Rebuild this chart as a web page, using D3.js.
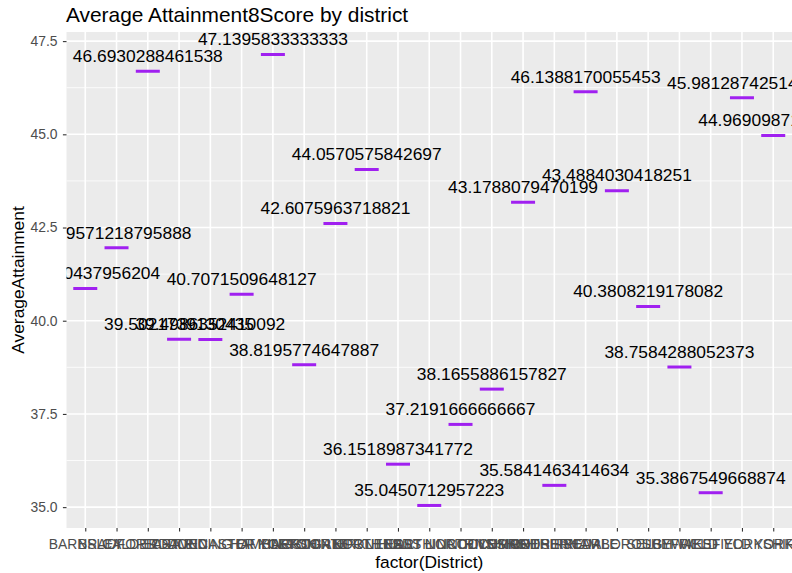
<!DOCTYPE html>
<html>
<head>
<meta charset="utf-8">
<script src="https://cdn.jsdelivr.net/npm/d3@7"></script>
<style>
  body { margin: 0; background: #fff; }
  text { font-family: "Liberation Sans", Arial, sans-serif; }
</style>
</head>
<body>
<script>
// data
var districts = ["BARNSLEY", "BRADFORD", "CALDERDALE", "CRAVEN", "DONCASTER",
                 "EAST RIDING OF YORKSHIRE", "HAMBLETON", "HARROGATE",
                 "KINGSTON UPON HULL", "KIRKLEES", "LEEDS",
                 "NORTH EAST LINCOLNSHIRE", "NORTH LINCOLNSHIRE", "NORTH YORKSHIRE",
                 "RICHMONDSHIRE", "ROTHERHAM", "RYEDALE", "SCARBOROUGH", "SELBY",
                 "SHEFFIELD", "WAKEFIELD", "WEST YORKSHIRE", "YORK"];

var avgAttainment = [40.8620437956204, 41.9571218795888, 46.6930288461538,
                     39.5021739130435, 39.4986352410092, 40.7071509648127,
                     47.1395833333333, 38.8195774647887, 42.6075963718821,
                     44.0570575842697, 36.1518987341772, 35.0450712957223,
                     37.2191666666667, 38.1655886157827, 43.1788079470199,
                     35.5841463414634, 46.1388170055453, 43.4884030418251,
                     40.3808219178082, 38.7584288052373, 35.3867549668874,
                     45.9812874251497, 44.9690987124464];

var yTicks = [35, 37.5, 40, 42.5, 45, 47.5];
var yMinorTicks = [36.25, 38.75, 41.25, 43.75, 46.25];

var width = 792, height = 573;
var panel = { left: 66.5, right: 792, top: 32, bottom: 528 };

var points = districts.map(function (d, i) { return { district: d, value: avgAttainment[i] }; });

var svg = d3.select("body").append("svg")
            .attr("width", width)
            .attr("height", height);

var x = d3.scalePoint()
          .domain(districts)
          .range([panel.left, panel.right])
          .padding(0.6);

// ggplot style 5% expansion
var yMin = d3.min(avgAttainment), yMax = d3.max(avgAttainment);
var pad = (yMax - yMin) * 0.05;
var y = d3.scaleLinear()
          .domain([yMin - pad, yMax + pad])
          .range([panel.bottom, panel.top]);

svg.append("clipPath")
   .attr("id", "panelClip")
   .append("rect")
   .attr("x", panel.left)
   .attr("y", panel.top)
   .attr("width", panel.right - panel.left)
   .attr("height", panel.bottom - panel.top);

svg.append("rect")
   .attr("x", panel.left)
   .attr("y", panel.top)
   .attr("width", panel.right - panel.left)
   .attr("height", panel.bottom - panel.top)
   .attr("fill", "#EBEBEB");

var grid = svg.append("g");

grid.selectAll(".minor")
    .data(yMinorTicks)
    .enter().append("line")
    .attr("x1", panel.left).attr("x2", panel.right)
    .attr("y1", function (d) { return y(d); })
    .attr("y2", function (d) { return y(d); })
    .attr("stroke", "#fff")
    .attr("stroke-width", 0.8);

grid.selectAll(".majorY")
    .data(yTicks)
    .enter().append("line")
    .attr("x1", panel.left).attr("x2", panel.right)
    .attr("y1", function (d) { return y(d); })
    .attr("y2", function (d) { return y(d); })
    .attr("stroke", "#fff")
    .attr("stroke-width", 1.6);

grid.selectAll(".majorX")
    .data(districts)
    .enter().append("line")
    .attr("x1", function (d) { return x(d); })
    .attr("x2", function (d) { return x(d); })
    .attr("y1", panel.top).attr("y2", panel.bottom)
    .attr("stroke", "#fff")
    .attr("stroke-width", 1.6);

var marks = svg.append("g").attr("clip-path", "url(#panelClip)");

marks.selectAll("line.mean")
     .data(points)
     .enter().append("line")
     .attr("class", "mean")
     .attr("x1", function (d) { return x(d.district) - 12; })
     .attr("x2", function (d) { return x(d.district) + 12; })
     .attr("y1", function (d) { return y(d.value); })
     .attr("y2", function (d) { return y(d.value); })
     .attr("stroke", "#A020F0")
     .attr("stroke-width", 3);

marks.selectAll("text.val")
     .data(points)
     .enter().append("text")
     .attr("class", "val")
     .attr("x", function (d) { return x(d.district); })
     .attr("y", function (d) { return y(d.value) - 9.2; })
     .attr("text-anchor", "middle")
     .attr("font-size", "17.4px")
     .attr("fill", "#000")
     .text(function (d) { return String(d.value); });

// axes
var xAxis = svg.append("g")
               .attr("transform", "translate(0," + panel.bottom + ")")
               .call(d3.axisBottom(x).tickSize(3.6).tickPadding(7.5));

var yAxis = svg.append("g")
               .attr("transform", "translate(" + panel.left + ",0)")
               .call(d3.axisLeft(y).tickValues(yTicks).tickFormat(d3.format(".1f"))
                       .tickSize(3.6).tickPadding(5.4));

[xAxis, yAxis].forEach(function (ax) {
  ax.select(".domain").remove();
  ax.selectAll(".tick line").attr("stroke", "#333").attr("stroke-width", 1.1);
  ax.selectAll(".tick text")
    .attr("fill", "#4D4D4D")
    .style("font-size", "13.9px")
    .style("font-family", "'Liberation Sans', Arial, sans-serif");
});

svg.append("text")
   .attr("x", 66)
   .attr("y", 22)
   .attr("font-size", "20.9px")
   .attr("fill", "#000")
   .text("Average Attainment8Score by district");

svg.append("text")
   .attr("transform", "translate(24," + ((panel.top + panel.bottom) / 2) + ") rotate(-90)")
   .attr("text-anchor", "middle")
   .attr("font-size", "17.4px")
   .attr("fill", "#000")
   .text("AverageAttainment");

svg.append("text")
   .attr("x", (panel.left + panel.right) / 2)
   .attr("y", 568)
   .attr("text-anchor", "middle")
   .attr("font-size", "17.4px")
   .attr("fill", "#000")
   .text("factor(District)");
</script>
</body>
</html>
